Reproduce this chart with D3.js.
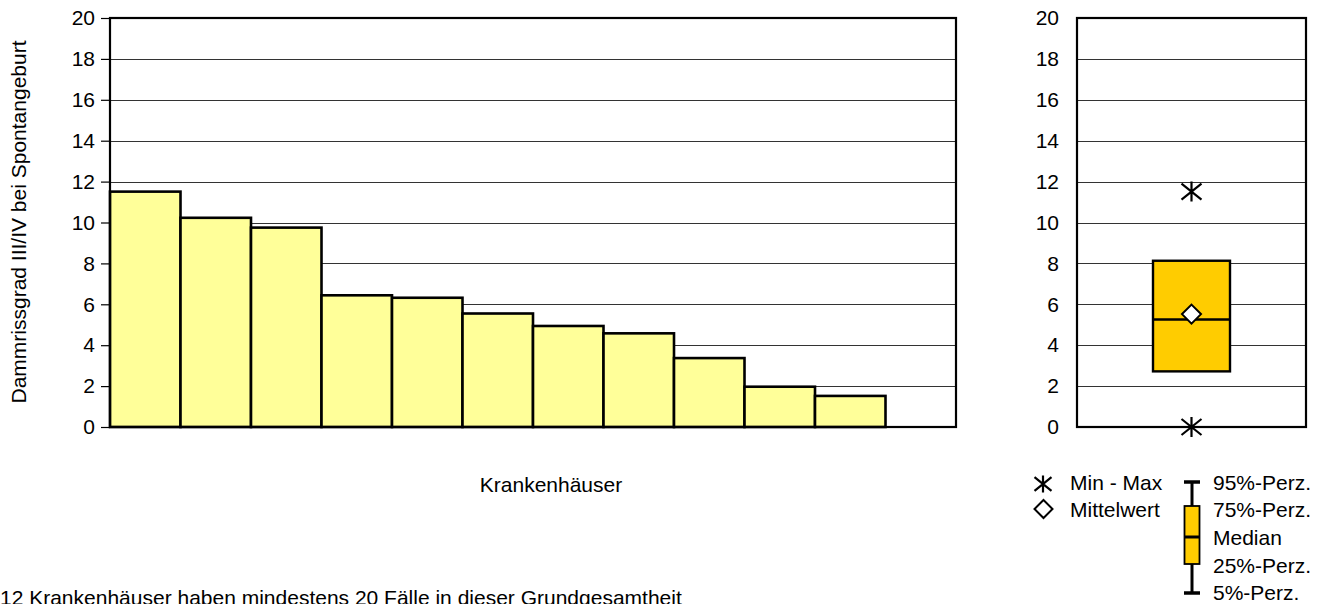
<!DOCTYPE html>
<html><head><meta charset="utf-8">
<script src="https://cdn.jsdelivr.net/npm/d3@7"></script>
<style>body{margin:0;background:#fff;} svg{display:block;font-family:"Liberation Sans",Arial,sans-serif;}</style>
</head><body>
<svg id="c" width="1326" height="604"></svg>
<script>
const hospitals = ["K1","K2","K3","K4","K5","K6","K7","K8","K9","K10","K11","K12"];
const rates = [11.51,10.23,9.75,6.44,6.32,5.55,4.94,4.58,3.37,1.97,1.52,0];
const yTicks = [0,2,4,6,8,10,12,14,16,18,20];
const boxStats = {min:0, q1:2.72, median:5.26, q3:8.13, max:11.51, mean:5.52};
const legendLeft = ["Min - Max","Mittelwert"];
const legendRight = ["95%-Perz.","75%-Perz.","Median","25%-Perz.","5%-Perz."];
const yTitle = "Dammrissgrad III/IV bei Spontangeburt";
const xTitle = "Krankenhäuser";
const footnote = "12 Krankenhäuser haben mindestens 20 Fälle in dieser Grundgesamtheit";

const FS = 21;
const svg = d3.select("#c");
const y = d3.scaleLinear().domain([0,20]).range([427,18]);
const x = d3.scaleBand().domain(hospitals).range([110,956]).padding(0);

// main plot gridlines
const g1 = svg.append("g");
g1.selectAll("line.grid").data(yTicks.filter(d=>d>0)).join("line")
  .attr("x1",110).attr("x2",956).attr("y1",d=>Math.round(y(d))+0.5).attr("y2",d=>Math.round(y(d))+0.5)
  .attr("stroke","#333").attr("stroke-width",1);
// bars
g1.selectAll("rect.bar").data(rates.map((v,i)=>({k:hospitals[i],v})).filter(d=>d.v>0)).join("rect")
  .attr("x",d=>x(d.k)).attr("width",x.bandwidth()).attr("y",d=>y(d.v)).attr("height",d=>y(0)-y(d.v))
  .attr("fill","#FFFF99").attr("stroke","#000").attr("stroke-width",2.6);
// frame
g1.append("rect").attr("x",110).attr("y",18).attr("width",846).attr("height",409)
  .attr("fill","none").attr("stroke","#000").attr("stroke-width",2.2);
// axis
const ax1 = svg.append("g").attr("transform","translate(110,0)")
  .call(d3.axisLeft(y).tickValues(yTicks).tickSize(9).tickPadding(6).tickFormat(d3.format("d")));
ax1.select(".domain").remove();
ax1.selectAll("text").attr("font-size",FS).attr("fill","#000").attr("font-family","Liberation Sans, Arial, sans-serif");
ax1.selectAll("line").attr("stroke","#000").attr("stroke-width",1.2);

svg.append("text").attr("transform","translate(26,222) rotate(-90)").attr("text-anchor","middle")
  .attr("font-size",FS).text(yTitle);
svg.append("text").attr("x",551).attr("y",492).attr("text-anchor","middle").attr("font-size",FS).text(xTitle);

// right plot
const xb = d3.scaleBand().domain(["all"]).range([1077,1306]).paddingInner(0).paddingOuter(0);
const cx = xb("all")+xb.bandwidth()/2;
const g2 = svg.append("g");
g2.selectAll("line.grid").data(yTicks.filter(d=>d>0)).join("line")
  .attr("x1",1077).attr("x2",1306).attr("y1",d=>Math.round(y(d))+0.5).attr("y2",d=>Math.round(y(d))+0.5)
  .attr("stroke","#333").attr("stroke-width",1);
const bw = 77;
g2.append("rect").attr("x",cx-bw/2).attr("width",bw).attr("y",y(boxStats.q3)).attr("height",y(boxStats.q1)-y(boxStats.q3))
  .attr("fill","#FFCC00").attr("stroke","#000").attr("stroke-width",2.4);
g2.append("line").attr("x1",cx-bw/2).attr("x2",cx+bw/2).attr("y1",y(boxStats.median)).attr("y2",y(boxStats.median))
  .attr("stroke","#000").attr("stroke-width",2.6);
function diamond(g,px,py,r){
  g.append("path").attr("d",`M${px},${py-r}L${px+r},${py}L${px},${py+r}L${px-r},${py}Z`)
    .attr("fill","#fff").attr("stroke","#000").attr("stroke-width",2);
}
function star(g,px,py,r){
  const d = `M${px},${py-r}L${px},${py+r}M${px-r},${py-r*0.8}L${px+r},${py+r*0.8}M${px-r},${py+r*0.8}L${px+r},${py-r*0.8}`;
  g.append("path").attr("d",d).attr("stroke","#000").attr("stroke-width",2.2).attr("fill","none");
}
diamond(g2,cx,y(boxStats.mean),9.5);
star(g2,cx,y(boxStats.max),10);
star(g2,cx,y(boxStats.min),10);
g2.append("rect").attr("x",1077).attr("y",18).attr("width",229).attr("height",409)
  .attr("fill","none").attr("stroke","#000").attr("stroke-width",2.2);
const ax2 = svg.append("g").attr("transform","translate(1077,0)")
  .call(d3.axisLeft(y).tickValues(yTicks).tickSize(0).tickPadding(18).tickFormat(d3.format("d")));
ax2.select(".domain").remove();
ax2.selectAll("text").attr("font-size",FS).attr("fill","#000").attr("font-family","Liberation Sans, Arial, sans-serif");
ax2.selectAll("line").remove();

// legend
const lg = svg.append("g");
star(lg,1043,484,8.5);
diamond(lg,1043.5,509,9);
lg.selectAll("text.l").data(legendLeft).join("text").attr("x",1070).attr("y",(d,i)=>490+i*27)
  .attr("font-size",FS).text(d=>d);
const lx = 1192;
lg.append("line").attr("x1",lx).attr("x2",lx).attr("y1",482).attr("y2",593).attr("stroke","#000").attr("stroke-width",3);
lg.append("line").attr("x1",lx-8).attr("x2",lx+8).attr("y1",482).attr("y2",482).attr("stroke","#000").attr("stroke-width",3.5);
lg.append("line").attr("x1",lx-8).attr("x2",lx+8).attr("y1",593).attr("y2",593).attr("stroke","#000").attr("stroke-width",3.5);
lg.append("rect").attr("x",lx-7.5).attr("y",506).attr("width",15).attr("height",58).attr("fill","#FFCC00").attr("stroke","#000").attr("stroke-width",1.8);
lg.append("line").attr("x1",lx-7.5).attr("x2",lx+7.5).attr("y1",537).attr("y2",537).attr("stroke","#000").attr("stroke-width",3);
lg.selectAll("text.r").data(legendRight).join("text").attr("x",1213).attr("y",(d,i)=>[490,517,545,573,600][i])
  .attr("font-size",FS).text(d=>d);

svg.append("text").attr("x",0).attr("y",605).attr("font-size",FS).text(footnote);
</script>
</body></html>
